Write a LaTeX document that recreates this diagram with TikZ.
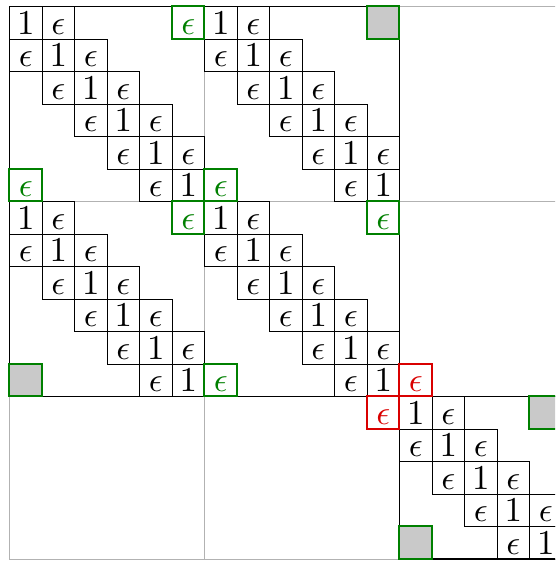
\documentclass[tikz,border=0pt]{standalone}
\usepackage{graphicx}
\newcommand{\myeps}{\scalebox{3.45}{$\epsilon$}}
\newcommand{\myone}{\scalebox{3.5}{$1$}}
\begin{document}
\begin{tikzpicture}[x=32.5bp,y=-32.5bp,
  gridline/.style={draw=black!30, line width=0.9bp},
  outline/.style={draw=black, line width=1.3bp},
  cell/.style={draw=black, line width=0.7bp, minimum size=32.5bp, inner sep=0pt, outer sep=0pt,
    text height=23.1bp, text depth=0pt},
  gcell/.style={cell, draw=green!50!black, line width=2bp, text=green!50!black},
  rcell/.style={cell, draw=red!85!black, line width=2bp, text=red!85!black},
  graycell/.style={cell, draw=green!50!black, line width=2bp, fill=black!21}]
\useasboundingbox (-0.2923,-0.2) rectangle (16.785,17.062);
\clip (-0.2923,-0.2) rectangle (16.785,17.062);
% light grid
\foreach \k in {0,6,12,17} {
  \draw[gridline] (\k,0) -- (\k,17);
  \draw[gridline] (0,\k) -- (17,\k);
}
% tridiagonal blocks
\foreach \bx/\by/\n [count=\b] in {0/0/6, 6/0/6, 0/6/6, 6/6/6, 12/12/5} {
  \foreach \i in {1,...,\n} {
    \node[cell] (one-\b-\i) at ({\bx+\i-0.5},{\by+\i-0.5}) {\myone};
    \ifnum\i>1 \node[cell] (lo-\b-\i) at ({\bx+\i-1.5},{\by+\i-0.5}) {\myeps};\fi
    \ifnum\i<\n \node[cell] (up-\b-\i) at ({\bx+\i+0.5},{\by+\i-0.5}) {\myeps};\fi
  }
}
% thick outlines
\draw[outline] (0,0) rectangle (12,12);
\draw[outline] (12,12) rectangle (17,17);
% green epsilon cells
\node[gcell] (g1) at (5.5,0.5) {\myeps};
\node[gcell] (g2) at (0.5,5.5) {\myeps};
\node[gcell] (g3) at (6.5,5.5) {\myeps};
\node[gcell] (g4) at (5.5,6.5) {\myeps};
\node[gcell] (g5) at (11.5,6.5) {\myeps};
\node[gcell] (g6) at (6.5,11.5) {\myeps};
% gray corner cells
\node[graycell] (s1) at (11.5,0.5) {};
\node[graycell] (s2) at (0.5,11.5) {};
\node[graycell] (s3) at (16.5,12.5) {};
\node[graycell] (s4) at (12.5,16.5) {};
% red coupling cells
\node[rcell] (r1) at (12.5,11.5) {\myeps};
\node[rcell] (r2) at (11.5,12.5) {\myeps};
\end{tikzpicture}
\end{document}
